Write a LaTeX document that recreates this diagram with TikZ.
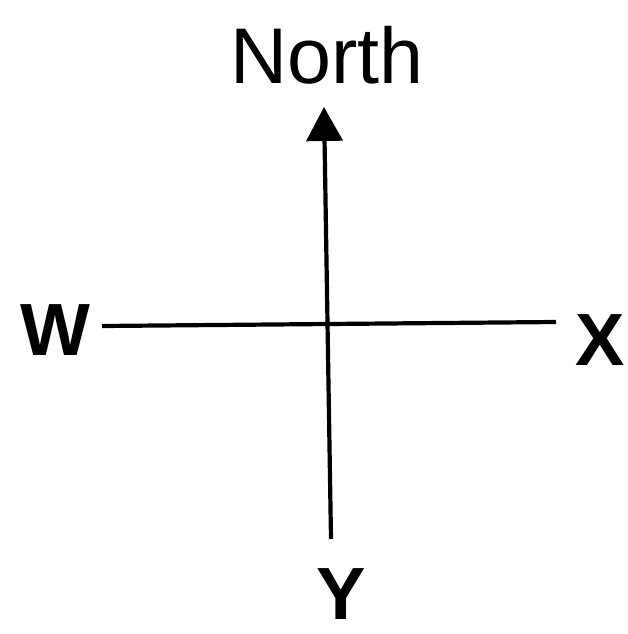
\documentclass[tikz,border=0pt]{standalone}
\usepackage{fontspec}
\setmainfont{Liberation Sans}
\usetikzlibrary{arrows.meta}
\tikzset{
  axis/.style={line width=4.2pt, black},
  lbl/.style={inner sep=0pt, font=\fontsize{74}{78}\selectfont\bfseries},
  ttl/.style={inner sep=0pt, font=\fontsize{79}{84}\selectfont}
}
\begin{document}
\begin{tikzpicture}[x=1pt,y=-1pt]
\useasboundingbox (0,0) rectangle (628,634);
\node[ttl, anchor=base] (north) at (327,83) {North};
\node[lbl, anchor=base] (w) at (55,355) {W};
\node[lbl, anchor=base] (x) at (600,365) {X};
\node[lbl, anchor=base] (y) at (341,619) {Y};
\coordinate (top) at (324,107);
\coordinate (bot) at (331,539);
\coordinate (left) at (102,326);
\coordinate (right) at (556,322);
\draw[axis, -{Triangle[length=34pt,width=36pt]}] (bot) -- (top);
\draw[axis] (left) -- (right);
\end{tikzpicture}
\end{document}
